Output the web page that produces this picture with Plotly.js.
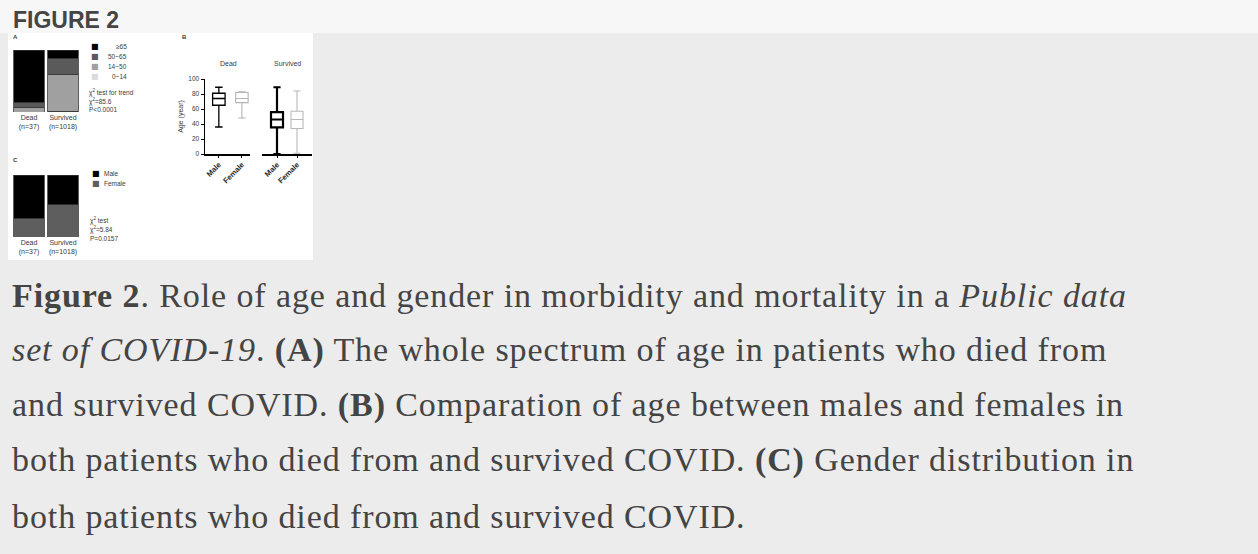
<!DOCTYPE html>
<html>
<head>
<meta charset="utf-8">
<script src="https://cdn.plot.ly/plotly-3.0.1.min.js"></script>
<style>html,body{margin:0;padding:0;background:#ececec;}#chart{width:1258px;height:554px;}</style>
</head>
<body>
<div id="chart"></div>
<script>
// ---------------- DATA ----------------
const groupLabels = ["Dead<br>(n=37)", "Survived<br>(n=1018)"];
const ageBandNames = ["0~14", "14~50", "50~65", "≥65"];       // bottom -> top of stack
const pctAge0to14 = [0, 1];
const pctAge14to50 = [7, 59];
const pctAge50to65 = [9, 27];
const pctAge65plus = [84, 13];
const genderNames = ["Female", "Male"];                        // bottom -> top of stack
const pctFemale = [30.5, 52];
const pctMale = [69.5, 48];
const boxGroupNames = ["Dead", "Survived"];
const boxCats = ["Male", "Female"];
const deadLow = [36, 48], deadQ1 = [65, 68.5], deadMedian = [74, 74], deadQ3 = [81, 82], deadHigh = [89, 83];
const survLow = [0, 1], survQ1 = [35.5, 34], survMedian = [46, 46], survQ3 = [55.7, 57], survHigh = [89, 84];
const ageTicks = [0, 20, 40, 60, 80, 100];
const statsA = ["χ<sup>2</sup> test for trend", "χ<sup>2</sup>=85.6", "P&lt;0.0001"];
const statsC = ["χ<sup>2</sup> test", "χ<sup>2</sup>=5.84", "P=0.0157"];
const captionLines = [
  "<b>Figure 2</b>. Role of age and gender in morbidity and mortality in a <i>Public data</i>",
  "<i>set of COVID-19</i>. <b>(A)</b> The whole spectrum of age in patients who died from",
  "and survived COVID. <b>(B)</b> Comparation of age between males and females in",
  "both patients who died from and survived COVID. <b>(C)</b> Gender distribution in",
  "both patients who died from and survived COVID."
];
const headerText = "FIGURE 2";

// ---------------- STYLE / LAYOUT ----------------
const W = 1258, H = 554;
const fx = v => v / W;
const fy = v => 1 - v / H;
const ageColors = ["#dcdcdc", "#a0a0a0", "#5a5a5a", "#000000"];
const genderColors = ["#5e5e5e", "#000000"];
const sans = "Liberation Sans, Arial, sans-serif";
const serif = "Liberation Serif, Times New Roman, serif";
const txt = "#3a3a3a";
const capSize = 34;

const traces = [];
const agePcts = [pctAge0to14, pctAge14to50, pctAge50to65, pctAge65plus];
ageBandNames.forEach((n, i) => traces.push({
  type: "bar", name: n, x: groupLabels, y: agePcts[i], xaxis: "x", yaxis: "y",
  marker: {color: ageColors[i], line: {color: "#333", width: 0.8}}, showlegend: false, hoverinfo: "skip"
}));
const genderPcts = [pctFemale, pctMale];
genderNames.forEach((n, i) => traces.push({
  type: "bar", name: n, x: groupLabels, y: genderPcts[i], xaxis: "x3", yaxis: "y3",
  marker: {color: genderColors[i], line: {color: "#333", width: 0.8}}, showlegend: false, hoverinfo: "skip"
}));
const boxStyle = [
  {color: "#000000", width: 1.3}, {color: "#b4b4b4", width: 1.1},
  {color: "#000000", width: 2.2}, {color: "#b8b8b8", width: 1.1}
];
const boxSets = [
  {ax: "x2", low: deadLow, q1: deadQ1, med: deadMedian, q3: deadQ3, high: deadHigh, w: 0.54},
  {ax: "x4", low: survLow, q1: survQ1, med: survMedian, q3: survQ3, high: survHigh, w: 0.6}
];
boxSets.forEach((s, g) => boxCats.forEach((c, i) => {
  const st = boxStyle[g * 2 + i];
  traces.push({
    type: "box", name: boxGroupNames[g] + " " + c, x: [c], xaxis: s.ax, yaxis: "y2",
    q1: [s.q1[i]], median: [s.med[i]], q3: [s.q3[i]], lowerfence: [s.low[i]], upperfence: [s.high[i]],
    width: s.w, whiskerwidth: 0.6, fillcolor: "#ffffff", line: {color: st.color, width: st.width},
    showlegend: false, hoverinfo: "skip", boxpoints: false
  });
}));

const ann = [];
const A = (x, y, text, o) => ann.push(Object.assign({xref: "paper", yref: "paper", x: fx(x), y: fy(y), text: text,
  showarrow: false, xanchor: "left", yanchor: "middle", font: {family: sans, size: 6.5, color: txt}}, o || {}));

A(11, 19.5, "<b>" + headerText + "</b>", {font: {family: sans, size: 23, color: "#454545"}});
// panel letters
A(11, 37, "<b>A</b>", {font: {family: sans, size: 6, color: txt}});
A(180, 37, "<b>B</b>", {font: {family: sans, size: 6, color: txt}});
A(11, 160, "<b>C</b>", {font: {family: sans, size: 6, color: txt}});
// legend A (top of stack first)
const legY = [47, 56.5, 66.5, 77];
[3, 2, 1, 0].forEach((k, r) => {
  A(95, legY[r], "■", {xanchor: "center", font: {family: "DejaVu Sans", size: 8, color: ageColors[k]}});
  A(129, legY[r], ageBandNames[k], {xanchor: "right"});
});
statsA.forEach((t, i) => A(87, [93, 101.5, 110][i], t));
// legend C
const legCY = [173.5, 183.5];
[1, 0].forEach((k, r) => {
  A(96, legCY[r], "■", {xanchor: "center", font: {family: "DejaVu Sans", size: 8, color: genderColors[k]}});
  A(102, legCY[r], genderNames[k]);
});
statsC.forEach((t, i) => A(88, [220, 229.5, 238.5][i], t));
// box group titles
A(228, 63, boxGroupNames[0], {xanchor: "center", font: {family: sans, size: 7, color: txt}});
A(287, 63, boxGroupNames[1], {xanchor: "center", font: {family: sans, size: 7, color: txt}});
// caption (line centres for baselines at 307, 362, 417, 472, 528)
const capMid = [295, 350, 405, 460, 516];
captionLines.forEach((t, i) => A(10, capMid[i], t, {align: "left", font: {family: serif, size: capSize, color: "#444"}}));

const catAxis = (d0, d1, anchor) => ({
  domain: [fx(d0), fx(d1)], anchor: anchor, type: "category", showline: false, ticks: "", showgrid: false,
  zeroline: false, automargin: false, tickfont: {family: sans, size: 7, color: txt}, fixedrange: true
});
const pctAxis = (top, bottom, anchor) => ({
  domain: [fy(bottom), fy(top)], anchor: anchor, range: [0, 100], visible: false, fixedrange: true
});
const boxX = (d0, d1, range) => ({
  domain: [fx(d0), fx(d1)], anchor: "y2", type: "category", range: range, showline: true, linecolor: "#000",
  linewidth: 1.5, ticks: "outside", ticklen: 2, tickcolor: "#000", tickangle: -45, showgrid: false,
  zeroline: false, automargin: false, tickfont: {family: sans, size: 7.5, color: "#2a2a2a", weight: "bold"}, fixedrange: true
});

const layout = {
  width: W, height: H, margin: {l: 0, r: 0, t: 0, b: 0}, paper_bgcolor: "#ececec", plot_bgcolor: "rgba(0,0,0,0)",
  barmode: "stack", bargap: 0.09, boxmode: "overlay", showlegend: false,
  xaxis: catAxis(12, 80, "y"), yaxis: pctAxis(50, 112, "x"),
  xaxis3: catAxis(12, 80, "y3"), yaxis3: pctAxis(175, 237, "x3"),
  xaxis2: boxX(205, 250, [-0.6, 1.35]),
  xaxis4: boxX(262, 312, [-0.75, 1.75]),
  yaxis2: {
    domain: [fy(154), fy(79)], anchor: "x2", range: [0, 100], tickvals: ageTicks, showline: true, linecolor: "#000",
    linewidth: 1.5, ticks: "outside", ticklen: 3, tickcolor: "#000", showgrid: false, zeroline: false, automargin: false,
    tickfont: {family: sans, size: 6.5, color: txt}, fixedrange: true,
    title: {text: "Age (year)", font: {family: sans, size: 7, color: txt}, standoff: 4}
  },
  shapes: [
    {type: "rect", xref: "paper", yref: "paper", x0: 0, x1: 1, y0: fy(33), y1: 1, fillcolor: "#f7f7f7", line: {width: 0}, layer: "below"},
    {type: "rect", xref: "paper", yref: "paper", x0: fx(8), x1: fx(313), y0: fy(260), y1: fy(33), fillcolor: "#ffffff", line: {width: 0}, layer: "below"}
  ],
  annotations: ann
};
Plotly.newPlot("chart", traces, layout, {displayModeBar: false, staticPlot: true}).then(() => {
  // widen caption tracking to mimic the wider serif face of the original page; keep left edge fixed
  document.querySelectorAll("#chart .annotation-text").forEach(el => {
    if (parseFloat(el.style.fontSize) >= 30) {
      const before = el.getBBox().x;
      el.style.letterSpacing = "0.9px";
      const after = el.getBBox().x;
      const shift = before - after;
      if (Math.abs(shift) > 0.5) {
        el.setAttribute("transform", "translate(" + shift + ",0)");
      }
    }
  });
});
</script>
</body>
</html>
